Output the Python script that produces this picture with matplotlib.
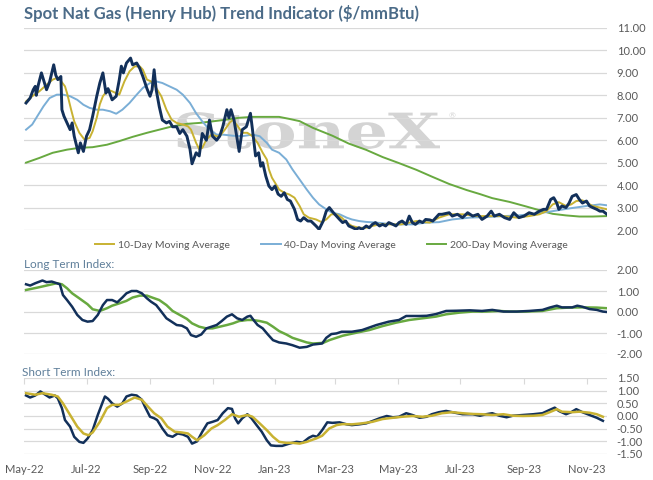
import numpy as np
import pandas as pd
import matplotlib
matplotlib.use("Agg")
import matplotlib.pyplot as plt
import matplotlib.dates as mdates
from matplotlib.ticker import FuncFormatter
from matplotlib.textpath import TextPath
from matplotlib.patches import PathPatch
from matplotlib.font_manager import FontProperties
from matplotlib.transforms import Affine2D

# ---------------- datos ----------------
spot_dates = ["2022-05-03","2022-05-07","2022-05-10","2022-05-12","2022-05-13","2022-05-15","2022-05-18","2022-05-20",
    "2022-05-23","2022-05-26","2022-05-30","2022-06-01","2022-06-03","2022-06-06","2022-06-07","2022-06-09","2022-06-12",
    "2022-06-15","2022-06-17","2022-06-19","2022-06-23","2022-06-25","2022-06-28","2022-07-01","2022-07-04","2022-07-07",
    "2022-07-11","2022-07-14","2022-07-17","2022-07-20","2022-07-22","2022-07-26","2022-07-30","2022-08-02","2022-08-04",
    "2022-08-06","2022-08-09","2022-08-13","2022-08-15","2022-08-19","2022-08-22","2022-08-25","2022-08-29","2022-09-01",
    "2022-09-03","2022-09-05","2022-09-07","2022-09-10","2022-09-13","2022-09-17","2022-09-20","2022-09-23","2022-09-27",
    "2022-09-30","2022-10-03","2022-10-07","2022-10-10","2022-10-12","2022-10-16","2022-10-19","2022-10-22","2022-10-26",
    "2022-10-29","2022-11-01","2022-11-05","2022-11-08","2022-11-11","2022-11-15","2022-11-17","2022-11-19","2022-11-22",
    "2022-11-27","2022-11-30","2022-12-04","2022-12-06","2022-12-08","2022-12-10","2022-12-13","2022-12-16","2022-12-18",
    "2022-12-20","2022-12-23","2022-12-26","2022-12-29","2023-01-01","2023-01-04","2023-01-07","2023-01-10","2023-01-13",
    "2023-01-16","2023-01-20","2023-01-23","2023-01-26","2023-01-29","2023-02-02","2023-02-05","2023-02-10","2023-02-13",
    "2023-02-17","2023-02-20","2023-02-23","2023-02-27","2023-03-02","2023-03-05","2023-03-08","2023-03-11","2023-03-14",
    "2023-03-18","2023-03-21","2023-03-24","2023-03-27","2023-03-31","2023-04-03","2023-04-06","2023-04-09","2023-04-13",
    "2023-04-16","2023-04-19","2023-04-22","2023-04-26","2023-04-29","2023-05-02","2023-05-05","2023-05-09","2023-05-12",
    "2023-05-15","2023-05-18","2023-05-22","2023-05-25","2023-05-28","2023-06-01","2023-06-04","2023-06-07","2023-06-10",
    "2023-06-13","2023-06-20","2023-06-23","2023-06-28","2023-07-03","2023-07-08","2023-07-13","2023-07-18","2023-07-22",
    "2023-07-27","2023-07-31","2023-08-03","2023-08-08","2023-08-13","2023-08-18","2023-08-22","2023-08-27","2023-09-01",
    "2023-09-06","2023-09-11","2023-09-16","2023-09-20","2023-09-23","2023-09-27","2023-09-30","2023-10-03","2023-10-05",
    "2023-10-08","2023-10-12","2023-10-15","2023-10-18","2023-10-22","2023-10-25","2023-10-28","2023-11-01","2023-11-04",
    "2023-11-07","2023-11-11","2023-11-14","2023-11-17","2023-11-21"]
spot_vals = [7.66,7.88,8.25,8.40,8.00,8.47,9.00,8.70,8.25,8.60,9.36,8.90,8.70,8.84,7.36,7.07,6.77,6.47,6.77,6.18,5.44,
    5.88,5.50,6.18,6.47,7.07,7.96,8.55,9.00,8.10,8.30,7.80,7.96,8.70,9.30,9.00,9.44,9.66,9.36,9.44,9.20,8.84,8.30,7.96,
    8.25,9.14,8.25,7.50,6.90,6.77,6.84,6.60,6.60,6.30,6.47,6.18,5.60,4.95,5.44,5.30,6.30,6.00,6.90,6.18,6.00,6.18,6.60,
    7.36,7.00,7.36,6.90,5.50,6.47,6.60,6.90,7.20,6.47,5.30,5.44,4.84,5.00,4.40,3.96,3.80,3.96,3.60,3.50,3.66,3.36,3.29,
    2.92,2.47,2.40,2.55,2.40,2.40,2.18,2.03,2.40,2.84,3.00,2.77,2.62,2.47,2.33,2.40,2.18,2.10,2.03,2.10,2.03,2.18,2.10,
    2.25,2.33,2.18,2.25,2.18,2.33,2.25,2.18,2.33,2.40,2.25,2.62,2.33,2.25,2.40,2.33,2.47,2.45,2.40,2.55,2.70,2.70,2.77,
    2.62,2.70,2.55,2.77,2.62,2.70,2.47,2.62,2.84,2.62,2.70,2.55,2.47,2.77,2.55,2.62,2.77,2.70,2.84,2.92,2.92,3.36,3.44,
    3.20,2.92,3.07,3.00,3.20,3.50,3.58,3.36,3.20,3.29,3.07,3.00,2.92,2.84,2.84,2.70]

ma10_dates = ["2022-05-03","2022-05-09","2022-05-16","2022-05-23","2022-05-29","2022-06-02","2022-06-05","2022-06-10",
    "2022-06-12","2022-06-16","2022-06-19","2022-06-24","2022-06-29","2022-07-04","2022-07-07","2022-07-11","2022-07-14",
    "2022-07-17","2022-07-22","2022-07-26","2022-08-02","2022-08-07","2022-08-12","2022-08-17","2022-08-22","2022-08-25",
    "2022-08-29","2022-09-02","2022-09-07","2022-09-12","2022-09-17","2022-09-22","2022-09-27","2022-10-03","2022-10-08",
    "2022-10-11","2022-10-16","2022-10-19","2022-10-22","2022-10-26","2022-10-31","2022-11-05","2022-11-08","2022-11-13",
    "2022-11-18","2022-11-21","2022-11-26","2022-11-30","2022-12-05","2022-12-10","2022-12-15","2022-12-20","2022-12-24",
    "2022-12-26","2022-12-29","2023-01-02","2023-01-05","2023-01-10","2023-01-15","2023-01-20","2023-01-25","2023-01-29",
    "2023-02-03","2023-02-10","2023-02-15","2023-02-20","2023-02-25","2023-03-02","2023-03-07","2023-03-12","2023-03-17",
    "2023-03-24","2023-03-31","2023-04-06","2023-04-13","2023-04-20","2023-04-26","2023-05-04","2023-05-12","2023-05-19",
    "2023-05-25","2023-06-01","2023-06-10","2023-06-20","2023-07-03","2023-07-17","2023-07-30","2023-08-12","2023-08-25",
    "2023-09-06","2023-09-16","2023-09-23","2023-09-29","2023-10-05","2023-10-12","2023-10-17","2023-10-22","2023-10-28",
    "2023-11-02","2023-11-07","2023-11-14","2023-11-21"]
ma10_vals = [7.73,7.96,8.18,8.47,8.70,8.77,8.70,8.40,8.10,7.36,6.84,6.33,6.03,6.10,6.40,7.00,7.60,7.96,8.25,8.18,8.03,
    8.62,9.07,9.29,9.29,9.14,8.70,8.62,8.33,7.96,7.36,6.92,6.77,6.70,6.62,6.47,5.88,5.60,5.66,6.03,6.25,6.18,6.18,6.47,
    6.80,6.90,6.60,6.33,6.33,6.18,5.88,5.44,5.14,4.70,4.33,4.03,3.80,3.66,3.58,3.44,3.07,2.70,2.55,2.47,2.36,2.47,2.70,
    2.70,2.55,2.33,2.18,2.10,2.10,2.18,2.25,2.25,2.25,2.25,2.33,2.40,2.36,2.33,2.55,2.70,2.70,2.62,2.62,2.62,2.55,2.62,
    2.70,2.84,3.14,3.24,3.07,3.14,3.29,3.32,3.20,3.07,3.00,2.92]

ma40_dates = ["2022-05-03","2022-05-09","2022-05-14","2022-05-20","2022-05-26","2022-06-02","2022-06-08","2022-06-15",
    "2022-06-22","2022-06-28","2022-07-04","2022-07-11","2022-07-17","2022-07-24","2022-07-30","2022-08-05","2022-08-12",
    "2022-08-19","2022-08-25","2022-09-01","2022-09-07","2022-09-13","2022-09-20","2022-09-27","2022-10-03","2022-10-10",
    "2022-10-16","2022-10-22","2022-10-29","2022-11-05","2022-11-11","2022-11-21","2022-11-30","2022-12-10","2022-12-17",
    "2022-12-24","2022-12-29","2023-01-05","2023-01-12","2023-01-18","2023-01-25","2023-02-01","2023-02-07","2023-02-13",
    "2023-02-20","2023-02-26","2023-03-05","2023-03-12","2023-03-17","2023-03-24","2023-03-31","2023-04-10","2023-04-20",
    "2023-05-02","2023-05-15","2023-05-29","2023-06-10","2023-06-23","2023-07-10","2023-07-26","2023-08-12","2023-08-27",
    "2023-09-13","2023-09-29","2023-10-15","2023-11-01","2023-11-14","2023-11-21"]
ma40_vals = [6.47,6.70,7.07,7.51,7.88,8.03,8.03,7.96,7.80,7.58,7.44,7.36,7.36,7.29,7.18,7.36,7.66,8.03,8.33,8.55,8.62,
    8.55,8.40,8.25,8.03,7.66,7.20,6.84,6.47,6.25,6.25,6.20,6.18,6.25,6.18,5.88,5.58,5.44,5.14,4.70,4.25,3.80,3.44,3.14,
    2.92,2.77,2.70,2.55,2.47,2.40,2.36,2.33,2.28,2.25,2.25,2.33,2.35,2.47,2.55,2.58,2.62,2.65,2.73,2.84,2.96,3.07,3.14,3.10]

ma200_dates = ["2022-05-03","2022-05-16","2022-05-29","2022-06-12","2022-06-24","2022-07-07","2022-07-21","2022-08-02",
    "2022-08-15","2022-08-29","2022-09-10","2022-09-23","2022-10-07","2022-10-19","2022-11-01","2022-11-15","2022-11-27",
    "2022-12-10","2022-12-24","2023-01-05","2023-01-15","2023-01-25","2023-02-07","2023-02-26","2023-03-14","2023-03-31",
    "2023-04-16","2023-05-02","2023-05-19","2023-06-03","2023-06-20","2023-07-07","2023-07-20","2023-08-01","2023-08-18",
    "2023-09-03","2023-09-16","2023-09-29","2023-10-12","2023-10-25","2023-11-07","2023-11-21"]
ma200_vals = [5.00,5.21,5.44,5.58,5.66,5.69,5.80,5.96,6.15,6.33,6.47,6.62,6.73,6.77,6.84,6.92,7.00,7.04,7.04,7.04,6.95,
    6.85,6.55,6.20,5.85,5.57,5.25,4.98,4.68,4.38,4.05,3.78,3.60,3.42,3.25,3.05,2.88,2.72,2.65,2.60,2.60,2.62]

long_dates = ["2022-05-03","2022-05-07","2022-05-12","2022-05-19","2022-05-23","2022-05-28","2022-06-02","2022-06-05",
    "2022-06-08","2022-06-12","2022-06-17","2022-06-22","2022-06-27","2022-07-02","2022-07-07","2022-07-12","2022-07-17",
    "2022-07-21","2022-07-26","2022-07-31","2022-08-05","2022-08-09","2022-08-14","2022-08-19","2022-08-24","2022-08-29",
    "2022-09-02","2022-09-07","2022-09-12","2022-09-17","2022-09-22","2022-09-27","2022-10-02","2022-10-07","2022-10-11",
    "2022-10-16","2022-10-21","2022-10-26","2022-10-31","2022-11-05","2022-11-10","2022-11-15","2022-11-20","2022-11-25",
    "2022-11-30","2022-12-05","2022-12-08","2022-12-11","2022-12-15","2022-12-20","2022-12-25","2022-12-30","2023-01-05",
    "2023-01-12","2023-01-18","2023-01-25","2023-02-01","2023-02-07","2023-02-16","2023-02-20","2023-02-25","2023-03-02",
    "2023-03-07","2023-03-17","2023-03-27","2023-04-10","2023-04-22","2023-05-02","2023-05-09","2023-05-22","2023-05-29",
    "2023-06-07","2023-06-17","2023-06-27","2023-07-10","2023-07-22","2023-08-01","2023-08-12","2023-08-25","2023-09-06",
    "2023-09-19","2023-09-26","2023-10-03","2023-10-08","2023-10-18","2023-10-23","2023-10-28","2023-11-04","2023-11-11",
    "2023-11-17","2023-11-21"]
long_vals = [1.32,1.26,1.37,1.50,1.42,1.45,1.37,1.32,0.81,0.57,0.25,-0.14,-0.38,-0.46,-0.43,-0.14,0.33,0.57,0.57,0.46,
    0.69,0.89,1.00,1.00,0.89,0.65,0.49,0.33,0.02,-0.30,-0.46,-0.62,-0.65,-0.78,-1.10,-1.18,-1.07,-0.78,-0.70,-0.62,-0.43,
    -0.22,-0.11,-0.30,-0.38,-0.22,-0.18,-0.38,-0.62,-0.78,-1.07,-1.34,-1.45,-1.50,-1.58,-1.70,-1.66,-1.55,-1.50,-1.23,
    -1.05,-1.02,-0.94,-0.94,-0.86,-0.62,-0.46,-0.38,-0.19,-0.19,-0.18,-0.10,0.05,0.06,0.08,0.05,0.10,0.02,0.02,0.05,0.10,
    0.21,0.30,0.22,0.22,0.30,0.25,0.14,0.10,0.02,0.00]

long_ma_dates = ["2022-05-03","2022-05-14","2022-05-23","2022-06-02","2022-06-07","2022-06-12","2022-06-17","2022-06-24",
    "2022-07-02","2022-07-07","2022-07-14","2022-07-21","2022-07-26","2022-08-02","2022-08-09","2022-08-15","2022-08-22",
    "2022-08-29","2022-09-03","2022-09-10","2022-09-17","2022-09-23","2022-09-30","2022-10-07","2022-10-12","2022-10-19",
    "2022-10-26","2022-11-01","2022-11-08","2022-11-15","2022-11-21","2022-11-27","2022-12-05","2022-12-10","2022-12-17",
    "2022-12-24","2022-12-30","2023-01-05","2023-01-12","2023-01-18","2023-01-25","2023-02-01","2023-02-07","2023-02-17",
    "2023-02-23","2023-03-08","2023-03-21","2023-04-03","2023-04-16","2023-04-29","2023-05-12","2023-05-25","2023-06-07",
    "2023-06-17","2023-06-30","2023-07-13","2023-07-26","2023-08-08","2023-08-18","2023-09-03","2023-09-19","2023-10-03",
    "2023-10-15","2023-10-28","2023-11-11","2023-11-21"]
long_ma_vals = [1.05,1.16,1.26,1.37,1.32,1.13,0.89,0.65,0.37,0.13,0.05,0.18,0.30,0.41,0.53,0.69,0.78,0.78,0.69,0.57,
    0.33,0.05,-0.14,-0.33,-0.54,-0.70,-0.78,-0.78,-0.70,-0.62,-0.54,-0.43,-0.38,-0.38,-0.43,-0.51,-0.70,-0.91,-1.07,
    -1.23,-1.34,-1.45,-1.50,-1.47,-1.34,-1.13,-0.99,-0.86,-0.67,-0.51,-0.38,-0.30,-0.22,-0.11,-0.03,0.02,0.02,0.05,0.02,
    0.02,0.05,0.18,0.21,0.22,0.21,0.18]

short_dates = ["2022-05-03","2022-05-07","2022-05-12","2022-05-17","2022-05-21","2022-05-26","2022-05-31","2022-06-03",
    "2022-06-07","2022-06-10","2022-06-15","2022-06-19","2022-06-24","2022-06-28","2022-07-02","2022-07-07","2022-07-12",
    "2022-07-17","2022-07-19","2022-07-22","2022-07-26","2022-07-31","2022-08-05","2022-08-09","2022-08-14","2022-08-19",
    "2022-08-24","2022-08-27","2022-09-01","2022-09-05","2022-09-08","2022-09-13","2022-09-18","2022-09-23","2022-09-28",
    "2022-10-03","2022-10-08","2022-10-12","2022-10-17","2022-10-22","2022-10-27","2022-11-01","2022-11-06","2022-11-11",
    "2022-11-16","2022-11-20","2022-11-23","2022-11-26","2022-11-30","2022-12-05","2022-12-09","2022-12-14","2022-12-19",
    "2022-12-24","2022-12-28","2023-01-02","2023-01-08","2023-01-15","2023-01-22","2023-01-28","2023-02-03","2023-02-07",
    "2023-02-11","2023-02-16","2023-02-21","2023-02-26","2023-03-05","2023-03-12","2023-03-17","2023-03-24","2023-03-31",
    "2023-04-06","2023-04-13","2023-04-20","2023-04-26","2023-05-02","2023-05-09","2023-05-15","2023-05-22","2023-05-29",
    "2023-06-03","2023-06-10","2023-06-17","2023-06-23","2023-07-03","2023-07-13","2023-07-20","2023-07-26","2023-08-01",
    "2023-08-08","2023-08-15","2023-08-21","2023-08-31","2023-09-10","2023-09-19","2023-09-26","2023-10-01","2023-10-05",
    "2023-10-12","2023-10-17","2023-10-22","2023-10-28","2023-11-04","2023-11-11","2023-11-17"]
short_vals = [0.81,0.73,0.81,0.97,0.86,0.73,0.81,0.70,0.31,-0.16,-0.42,-0.82,-1.02,-1.06,-0.89,-0.56,0.04,0.57,0.77,
    0.68,0.50,0.37,0.50,0.77,0.84,0.81,0.64,0.37,-0.03,-0.09,-0.16,-0.49,-0.76,-0.82,-0.69,-0.73,-0.82,-1.09,-1.00,-0.62,
    -0.29,-0.23,-0.16,0.11,0.31,0.28,-0.09,-0.29,-0.09,0.07,-0.09,-0.36,-0.62,-0.96,-1.16,-1.18,-1.18,-1.09,-1.02,-1.05,
    -0.86,-0.78,-0.82,-0.56,-0.25,-0.27,-0.25,-0.33,-0.36,-0.33,-0.29,-0.20,-0.09,0.00,-0.05,-0.03,0.11,0.04,-0.07,-0.03,
    0.07,0.15,0.20,0.15,0.07,0.07,0.01,0.07,0.11,0.01,-0.05,0.01,0.04,0.07,0.11,0.24,0.33,0.20,0.07,0.15,0.27,0.15,0.04,
    -0.07,-0.19]

short_ma_dates = ["2022-05-03","2022-05-12","2022-05-19","2022-05-28","2022-06-03","2022-06-08","2022-06-15","2022-06-22",
    "2022-06-28","2022-07-03","2022-07-07","2022-07-14","2022-07-21","2022-07-26","2022-08-02","2022-08-09","2022-08-17",
    "2022-08-24","2022-08-30","2022-09-05","2022-09-12","2022-09-18","2022-09-25","2022-10-02","2022-10-08","2022-10-12",
    "2022-10-17","2022-10-24","2022-10-31","2022-11-06","2022-11-13","2022-11-20","2022-11-27","2022-12-05","2022-12-10",
    "2022-12-17","2022-12-24","2022-12-30","2023-01-05","2023-01-12","2023-01-18","2023-01-25","2023-02-01","2023-02-07",
    "2023-02-10","2023-02-16","2023-02-23","2023-03-02","2023-03-08","2023-03-17","2023-03-27","2023-04-06","2023-04-16",
    "2023-04-26","2023-05-05","2023-05-15","2023-05-25","2023-06-03","2023-06-13","2023-06-23","2023-07-03","2023-07-13",
    "2023-07-22","2023-08-01","2023-08-12","2023-08-21","2023-08-31","2023-09-10","2023-09-19","2023-09-26","2023-10-03",
    "2023-10-08","2023-10-18","2023-10-25","2023-11-04","2023-11-11","2023-11-17"]
short_ma_vals = [0.90,0.84,0.90,0.84,0.77,0.50,0.04,-0.42,-0.69,-0.76,-0.65,-0.23,0.31,0.44,0.44,0.57,0.73,0.64,0.37,
    0.11,-0.09,-0.42,-0.62,-0.65,-0.69,-0.82,-0.96,-0.76,-0.49,-0.36,-0.16,0.07,-0.03,0.04,-0.03,-0.29,-0.56,-0.82,-1.02,
    -1.06,-1.06,-1.09,-1.02,-0.93,-0.89,-0.78,-0.49,-0.36,-0.32,-0.33,-0.29,-0.23,-0.12,-0.07,-0.03,0.00,-0.03,0.01,0.11,
    0.15,0.11,0.08,0.07,0.04,0.07,0.01,0.00,0.01,0.04,0.15,0.27,0.17,0.15,0.17,0.13,0.07,-0.03]

month_ticks = ["2022-05-01","2022-07-01","2022-09-01","2022-11-01","2023-01-01","2023-03-01","2023-05-01",
    "2023-07-01","2023-09-01","2023-11-01"]

# ---------------- estilo ----------------
NAVY = "#12305a"
GOLD = "#c8b232"
BLUE = "#7aaed6"
GREEN = "#68a940"
GRID = "#d9d9d9"
TXT = "#595959"
TITLE = "#4b6b88"
FONT = "Lato"

plt.rcParams["font.family"] = [FONT, "DejaVu Sans"]

d = lambda lst: pd.to_datetime(lst)
xmin, xmax = pd.Timestamp("2022-05-01"), pd.Timestamp("2023-11-21")

fig = plt.figure(figsize=(6.53, 4.80), dpi=100)
fig.patch.set_facecolor("white")

ax1 = fig.add_axes([24/653, 1-230/480, 583/653, 202/480])
ax2 = fig.add_axes([24/653, 1-354/480, 583/653, 84/480])
ax3 = fig.add_axes([24/653, 1-454/480, 583/653, 76/480])

fmt = FuncFormatter(lambda v, p: f"{v:.2f}")
for ax in (ax1, ax2, ax3):
    for s in ax.spines.values():
        s.set_visible(False)
    ax.yaxis.tick_right()
    ax.grid(axis="y", color=GRID, lw=0.9)
    ax.set_axisbelow(True)
    ax.tick_params(axis="y", length=0, labelsize=8, labelcolor=TXT, pad=7)
    ax.yaxis.set_major_formatter(fmt)
    ax.set_xlim(xmin, xmax)
    ax.patch.set_alpha(0)

# panel de precio
ax1.plot(d(ma200_dates), ma200_vals, color=GREEN, lw=1.4, label="200-Day Moving Average")
ax1.plot(d(ma40_dates), ma40_vals, color=BLUE, lw=1.4, label="40-Day Moving Average")
ax1.plot(d(ma10_dates), ma10_vals, color=GOLD, lw=1.4, label="10-Day Moving Average")
ax1.plot(d(spot_dates), spot_vals, color=NAVY, lw=2.1)
ax1.set_ylim(2, 11)
ax1.set_yticks(np.arange(2, 11.01, 1))
ax1.set_xticks([])

h, l = ax1.get_legend_handles_labels()
order = [2, 1, 0]
fig.legend([h[i] for i in order], [l[i] for i in order], loc="center", bbox_to_anchor=(331/653, 1-245/480),
           ncol=3, frameon=False, fontsize=7.5, labelcolor=TXT, handlelength=1.9, handletextpad=0.3,
           columnspacing=3.0)

# marca de agua
fp = FontProperties(family="DejaVu Serif", weight="bold")
tp = TextPath((0, 0), "StoneX", size=100, prop=fp)
ext = tp.get_extents()
tr = Affine2D().translate(-ext.x0, -ext.y0).scale(263/ext.width, 37/ext.height).translate(177, 480-149)
wm = PathPatch(tp, transform=tr, facecolor="#d4d4d4", edgecolor="none", zorder=0.5, clip_on=False)
ax1.add_artist(wm)
fig.text(452/653, 1-116/480, "\u00ae", color="#d4d4d4", fontsize=6, ha="center", va="center")

# indice largo plazo
ax2.plot(d(long_ma_dates), long_ma_vals, color=GREEN, lw=1.8)
ax2.plot(d(long_dates), long_vals, color=NAVY, lw=1.8)
ax2.set_ylim(-2, 2)
ax2.set_yticks(np.arange(-2, 2.01, 1))
ax2.set_xticks([])

# indice corto plazo
ax3.plot(d(short_dates), short_vals, color=NAVY, lw=1.8)
ax3.plot(d(short_ma_dates), short_ma_vals, color=GOLD, lw=1.8)
ax3.set_ylim(-1.5, 1.5)
ax3.set_yticks(np.arange(-1.5, 1.51, 0.5))
ax3.set_xticks(d(month_ticks))
ax3.xaxis.set_major_formatter(mdates.DateFormatter("%b-%y"))
ax3.tick_params(axis="x", top=True, bottom=False, labeltop=False, labelbottom=True, direction="in",
                length=4, color=GRID, labelsize=8, labelcolor=TXT, pad=7)
ax3.set_xlim(xmin, xmax)

fig.text(24/653, 1-14/480, "Spot Nat Gas (Henry Hub) Trend Indicator (\\$/mmBtu)", color=TITLE,
         fontsize=12, fontweight="bold", ha="left", va="center")
fig.text(24/653, 1-265/480, "Long Term Index:", color="#5f7f9a", fontsize=8.5, ha="left", va="center")
fig.text(22/653, 1-373/480, "Short Term Index:", color="#5f7f9a", fontsize=8.5, ha="left", va="center")

fig.savefig("out.png", dpi=100)
